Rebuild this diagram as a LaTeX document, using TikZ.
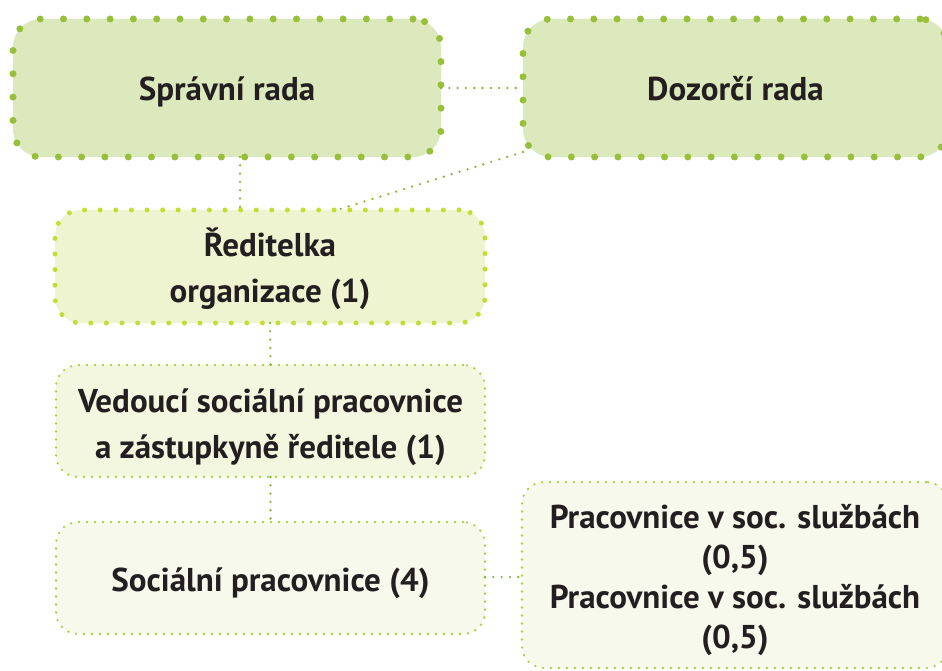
\documentclass[tikz,border=0pt]{standalone}
\usepackage{fontspec}
\setmainfont{PT Sans}
\definecolor{bigfill}{HTML}{DCE9BC}
\definecolor{bigdot}{HTML}{97BF3A}
\definecolor{midfill}{HTML}{EFF4D0}
\definecolor{middot}{HTML}{C4DC34}
\definecolor{vedfill}{HTML}{F3F7E0}
\definecolor{smallfill}{HTML}{F7F9EC}
\definecolor{smalldot}{HTML}{A9CF4B}
\definecolor{linkdot}{HTML}{8DB63A}
\definecolor{txt}{HTML}{231F20}
\newcommand{\placeline}[2]{\raisebox{#1}[0pt][0pt]{#2}}
\newcommand{\placelines}[2]{\raisebox{#1}[0pt][0pt]{\begin{tabular}[t]{@{}c@{}}#2\end{tabular}}}
\tikzset{
  box/.style={rectangle, inner sep=0pt, outer sep=0pt, align=center, text=txt,
    font=\fontsize{33}{46}\selectfont\bfseries, line cap=round},
  bigbox/.style={box, fill=bigfill, draw=bigdot, line width=7pt,
    dash pattern=on 0pt off 23.3pt, rounded corners=28pt},
  midbox/.style={box, fill=midfill, draw=middot, line width=5pt,
    dash pattern=on 0pt off 15.6pt, rounded corners=26pt},
  smallbox/.style={box, draw=smalldot, line width=2.6pt,
    dash pattern=on 0pt off 8pt, rounded corners=22pt},
  link/.style={draw=linkdot, line width=2.6pt, line cap=round,
    dash pattern=on 0pt off 8.3pt}
}
\begin{document}
\begin{tikzpicture}[x=1pt,y=-1pt]
\useasboundingbox (0,0) rectangle (942,671);
\clip (0,0) rectangle (942,671);
\node[bigbox, minimum width=428pt, minimum height=138pt] (spr) at (227,88) {\placeline{-13pt}{Správní rada}};
\node[bigbox, minimum width=425pt, minimum height=138pt] (doz) at (735.5,88) {\placeline{-13pt}{Dozorčí rada}};
\node[midbox, minimum width=430pt, minimum height=113pt] (red) at (270,266.5) {\placelines{10pt}{Ředitelka\\organizace (1)}};
\node[smallbox, fill=vedfill, minimum width=429pt, minimum height=112pt] (ved) at (270.5,421) {\placelines{9pt}{Vedoucí sociální pracovnice\\a zástupkyně ředitele (1)}};
\node[smallbox, fill=smallfill, minimum width=429pt, minimum height=112pt] (soc) at (270.5,578) {\placeline{-13pt}{Sociální pracovnice (4)}};
\node[smallbox, fill=smallfill, minimum width=426pt, minimum height=186pt,
  font=\fontsize{33}{40}\selectfont\bfseries] (pra) at (735,575)
  {\placelines{47pt}{Pracovnice v soc. službách\\(0,5)\\Pracovnice v soc. službách\\(0,5)}};
\draw[link] (spr.east) -- (doz.west);
\draw[link] ([xshift=13pt]spr.south) -- ([xshift=-30pt]red.north);
\draw[link] ([yshift=5pt]doz.south west) -- ([xshift=67pt]red.north);
\draw[link] (red.south) -- (ved.north);
\draw[link] (ved.south) -- (soc.north);
\draw[link] ([yshift=1pt]soc.east) -- ([yshift=1pt]soc.east -| pra.west);
\end{tikzpicture}
\end{document}
